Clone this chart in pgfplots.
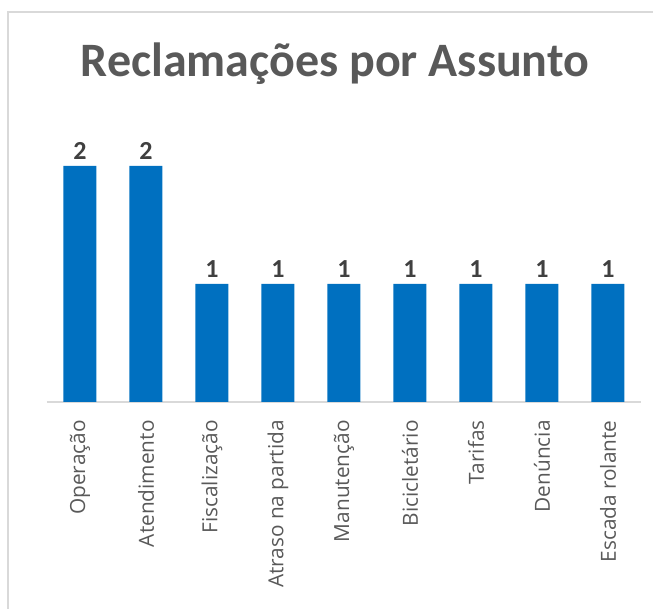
\documentclass[border=0pt]{standalone}
\usepackage{pgfplots}
\pgfplotsset{compat=1.18}
\usepackage{fontspec}
\setmainfont{Open Sans}
\newfontfamily\titlefont{Carlito}
\definecolor{barblue}{HTML}{0070C0}
\definecolor{txtgray}{HTML}{595959}
\definecolor{lblgray}{HTML}{404040}
\definecolor{linegray}{HTML}{D9D9D9}
\begin{document}
\begin{tikzpicture}
\path[use as bounding box] (0pt,0pt) rectangle (326.5pt,304.5pt);
\draw[linegray, line width=0.6pt] (4pt,0pt) -- (4pt,298.5pt) -- (326.5pt,298.5pt);
\node[font=\titlefont\bfseries\fontsize{24}{28}\selectfont, text=txtgray] at (167.5pt,272.5pt) {Reclamações por Assunto};
\begin{axis}[
  at={(23.5pt,103.5pt)}, anchor=south west,
  scale only axis, width=297pt, height=147.5pt,
  xmin=-0.5, xmax=8.5, ymin=0, ymax=2.5,
  axis y line=none, axis x line=bottom,
  x axis line style={linegray, line width=1pt, -},
  xtick=data, major tick length=0pt,
  xticklabels={Operação,Atendimento,Fiscalização,Atraso na partida,Manutenção,Bicicletário,Tarifas,Denúncia,Escada rolante},
  xticklabel style={rotate=90, anchor=east, inner sep=0pt, font=\fontsize{10.4}{12}\selectfont, text=txtgray},
  xticklabel shift=9pt,
  ybar, bar width=16.5pt,
  nodes near coords,
  /pgf/number format/assume math mode=true,
  every node near coord/.append style={font=\titlefont\bfseries\fontsize{13}{14}\selectfont, text=lblgray, anchor=south, inner sep=0pt, yshift=3pt},
  clip=false,
]
\addplot[fill=barblue, draw=none] coordinates {(0,2) (1,2) (2,1) (3,1) (4,1) (5,1) (6,1) (7,1) (8,1)};
\end{axis}
\end{tikzpicture}
\end{document}
